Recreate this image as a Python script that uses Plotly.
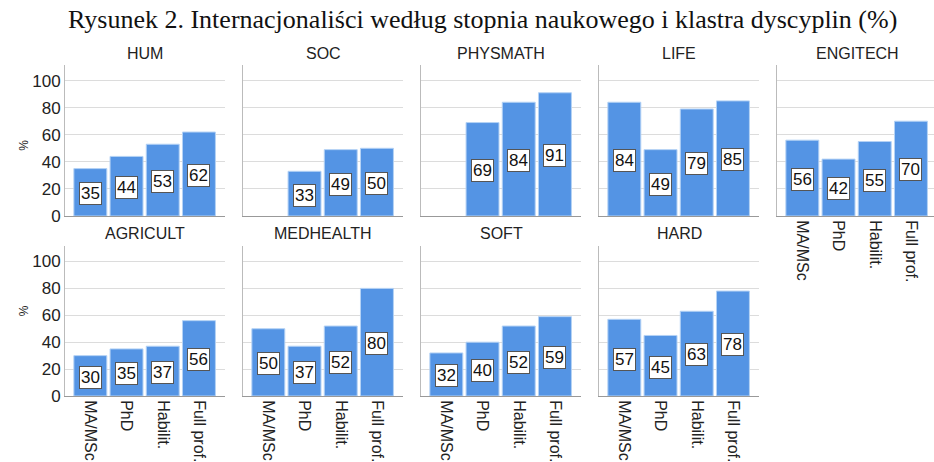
import plotly.graph_objects as go

categories = ["MA/MSc", "PhD", "Habilit.", "Full prof."]
panels = ["HUM", "SOC", "PHYSMATH", "LIFE", "ENGITECH",
          "AGRICULT", "MEDHEALTH", "SOFT", "HARD"]
hum = [35, 44, 53, 62]
soc = [None, 33, 49, 50]
physmath = [None, 69, 84, 91]
life = [84, 49, 79, 85]
engitech = [56, 42, 55, 70]
agricult = [30, 35, 37, 56]
medhealth = [50, 37, 52, 80]
soft = [32, 40, 52, 59]
hard = [57, 45, 63, 78]
values = [hum, soc, physmath, life, engitech, agricult, medhealth, soft, hard]
y_ticks = [0, 20, 40, 60, 80, 100]

W, H = 934, 462
BAR = "#5494E4"
col_left = [65, 243, 421, 599, 777]
pw = 160
rows = [(65, 216), (246, 396)]
xr = [-0.70, 3.72]
px_per_unit = pw / (xr[1] - xr[0])

fig = go.Figure()
layout = dict(
    width=W, height=H,
    margin=dict(l=0, r=0, t=0, b=0),
    paper_bgcolor="white", plot_bgcolor="white",
    showlegend=False,
    bargap=0.09,
    font=dict(family="Liberation Sans, Arial, sans-serif", color="#222"),
)
annotations = []

for i, (name, vals) in enumerate(zip(panels, values)):
    r, c = (0, i) if i < 5 else (1, i - 5)
    n = i + 1
    xa = "x" if n == 1 else f"x{n}"
    ya = "y" if n == 1 else f"y{n}"
    left = col_left[c]
    right = left + pw
    xrange = list(xr)
    if right > W:
        xrange[1] = xr[0] + (W - left) / px_per_unit
        right = W
    top, bot = rows[r]
    fig.add_trace(go.Bar(
        x=categories, y=vals, xaxis=xa, yaxis=ya,
        marker=dict(color=BAR, line=dict(color="#B4D2F5", width=1)),
        hoverinfo="x+y",
    ))
    show_x = (r == 1) or (name == "ENGITECH")
    layout["xaxis" if n == 1 else f"xaxis{n}"] = dict(
        domain=[left / W, right / W], anchor=ya, automargin=False,
        range=xrange, showgrid=False, zeroline=False,
        showline=True, linecolor="#999", linewidth=1,
        showticklabels=show_x, tickangle=90, ticks="",
        tickfont=dict(size=16, color="#222"), fixedrange=True,
        type="category", categoryorder="array", categoryarray=categories,
    )
    layout["yaxis" if n == 1 else f"yaxis{n}"] = dict(
        domain=[1 - bot / H, 1 - top / H], anchor=xa, automargin=False,
        range=[0, 111.5], tickvals=y_ticks,
        showgrid=True, gridcolor="#dcdcdc", gridwidth=1,
        zeroline=False, showline=True, linecolor="#bbb", linewidth=1,
        showticklabels=(c == 0), ticks="",
        tickfont=dict(size=17, color="#222"), fixedrange=True,
    )
    annotations.append(dict(
        text=name, x=(left + left + pw) / 2 / W, y=1 - (top - 12) / H,
        xref="paper", yref="paper", showarrow=False,
        xanchor="center", yanchor="middle",
        font=dict(size=16, color="#222"),
    ))
    for cat, v in zip(categories, vals):
        if v is None:
            continue
        annotations.append(dict(
            text=str(v), x=cat, y=v / 2 - 1, xref=xa, yref=ya,
            showarrow=False, xanchor="center", yanchor="middle",
            font=dict(size=17, color="#111"),
            bgcolor="white", bordercolor="#555", borderwidth=1, borderpad=1,
        ))
    if c == 0:
        annotations.append(dict(
            text="%", x=15 / W, y=1 - (top + bot) / 2 / H + 0.005,
            xref="paper", yref="paper", showarrow=False, textangle=-90,
            font=dict(size=12, color="#222"),
        ))

annotations.append(dict(
    text="Rysunek 2. Internacjonaliści według stopnia naukowego i klastra dyscyplin (%)",
    x=482 / W, y=1 - 20 / H, xref="paper", yref="paper", showarrow=False,
    xanchor="center", yanchor="middle",
    font=dict(family="Liberation Serif, Times New Roman, serif", size=26, color="#111"),
))
layout["annotations"] = annotations
fig.update_layout(**layout)
fig.write_html(
    "out.html",
    config={"displayModeBar": False},
    post_script="document.body.style.margin='0';document.body.style.overflow='hidden';",
)
